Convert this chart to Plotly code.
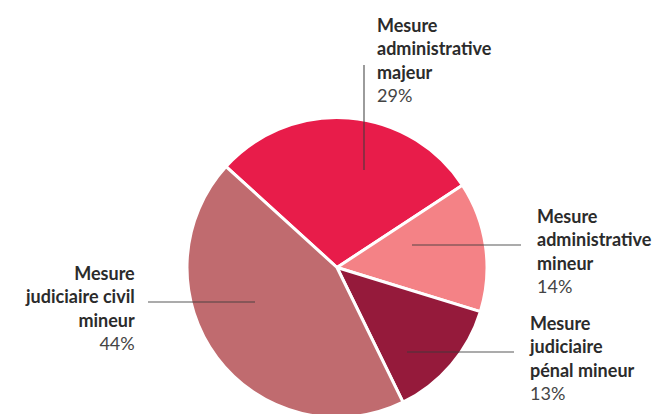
import plotly.graph_objects as go

labels = ["Mesure administrative majeur", "Mesure administrative mineur",
          "Mesure judiciaire pénal mineur", "Mesure judiciaire civil mineur"]
label_lines = ["Mesure<br>administrative<br>majeur", "Mesure<br>administrative<br>mineur",
               "Mesure<br>judiciaire<br>pénal mineur", "Mesure<br>judiciaire civil<br>mineur"]
values = [29, 14, 13, 44]
colors = ["#E81C4A", "#F48286", "#951A3B", "#C06B6F"]

W, H = 655, 440

def px(x):
    return x / W

def py(y):
    return 1 - y / H

# pie placement (pixels)
cx, cy, r = 337, 267.5, 150

fig = go.Figure(go.Pie(
    labels=labels, values=values, sort=False, direction="clockwise",
    rotation=-47.7, textinfo="none", hoverinfo="label+percent",
    marker=dict(colors=colors, line=dict(color="white", width=3)),
    domain=dict(x=[px(cx - r), px(cx + r)], y=[py(cy + r), py(cy - r)]),
    showlegend=False,
))

# label positions: (x, y_center, xanchor)
label_pos = [(375, 60, "left"), (535, 251, "left"), (527, 358, "left"), (137, 308, "right")]
leaders = [((364, 65), (364, 170)), ((412, 245), (521, 245)),
           ((407, 352), (514, 352)), ((148, 302), (255, 302))]

for lab, v, (x, y, anc), ((x0, y0), (x1, y1)) in zip(label_lines, values, label_pos, leaders):
    fig.add_annotation(
        x=px(x), y=py(y), xref="paper", yref="paper", xanchor=anc, yanchor="middle",
        align=anc, showarrow=False,
        text=f"<b>{lab}</b><br><span style='color:#444444'>{v}%</span>",
        font=dict(family="Lato", size=18, color="#2b2b2b"),
    )
    fig.add_shape(type="line", xref="paper", yref="paper",
                  x0=px(x0), y0=py(y0), x1=px(x1), y1=py(y1),
                  line=dict(color="rgba(60,60,60,0.85)", width=1.2))

fig.update_layout(width=W, height=H, margin=dict(l=0, r=0, t=0, b=0),
                  paper_bgcolor="white", plot_bgcolor="white")

fig.write_html("out.html", config={"displayModeBar": False}, post_script=(
    "document.body.style.margin='0';"
    "document.body.style.overflow='hidden';"
    "document.documentElement.style.overflow='hidden';"
))
